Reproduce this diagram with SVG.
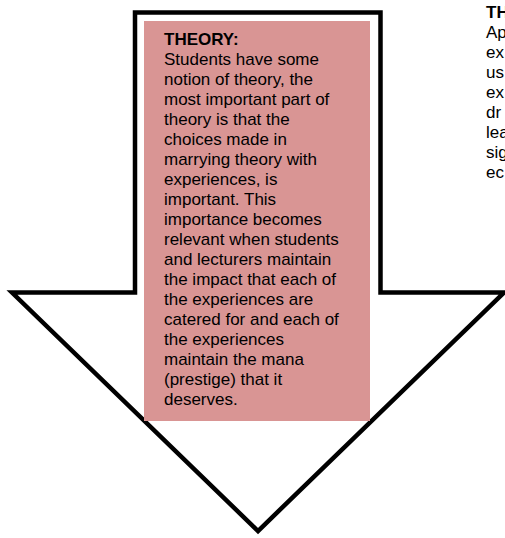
<svg xmlns="http://www.w3.org/2000/svg" width="505" height="538" viewBox="0 0 505 538">
<style>
.t{font-family:"Liberation Sans",Arial,sans-serif;font-size:17px;fill:#000}
.b{font-weight:bold}
</style>
<rect width="505" height="538" fill="#fff"/>
<g id="arrow">
<polygon points="135,12.5 380.5,12.5 380.5,292.5 504,292.5 258,531 12,292.5 135,292.5" fill="#fff" stroke="#000" stroke-width="4.5" stroke-linejoin="miter" stroke-miterlimit="10"/>
</g>
<g id="theory">
<rect x="144" y="21" width="226" height="400" fill="#d99594"/>
<text class="t" x="164">
<tspan class="b" x="164" y="45">THEORY:</tspan>
<tspan x="164" y="65">Students have some</tspan>
<tspan x="164" y="85">notion of theory, the</tspan>
<tspan x="164" y="105">most important part of</tspan>
<tspan x="164" y="125">theory is that the</tspan>
<tspan x="164" y="145">choices made in</tspan>
<tspan x="164" y="165">marrying theory with</tspan>
<tspan x="164" y="185">experiences, is</tspan>
<tspan x="164" y="205">important. This</tspan>
<tspan x="164" y="225">importance becomes</tspan>
<tspan x="164" y="245">relevant when students</tspan>
<tspan x="164" y="265">and lecturers maintain</tspan>
<tspan x="164" y="285">the impact that each of</tspan>
<tspan x="164" y="305">the experiences are</tspan>
<tspan x="164" y="325">catered for and each of</tspan>
<tspan x="164" y="345">the experiences</tspan>
<tspan x="164" y="365">maintain the mana</tspan>
<tspan x="164" y="385">(prestige) that it</tspan>
<tspan x="164" y="405">deserves.</tspan>
</text>
</g>
<g id="right-text">
<text class="t" x="486">
<tspan class="b" x="486" y="18">TH</tspan>
<tspan x="486" y="38">Ap</tspan>
<tspan x="486" y="58">ex</tspan>
<tspan x="486" y="78">us</tspan>
<tspan x="486" y="98">ex</tspan>
<tspan x="486" y="118">dr</tspan>
<tspan x="486" y="138">lea</tspan>
<tspan x="486" y="158">sig</tspan>
<tspan x="486" y="178">ec</tspan>
</text>
</g>
<g id="connectors"/>
</svg>
